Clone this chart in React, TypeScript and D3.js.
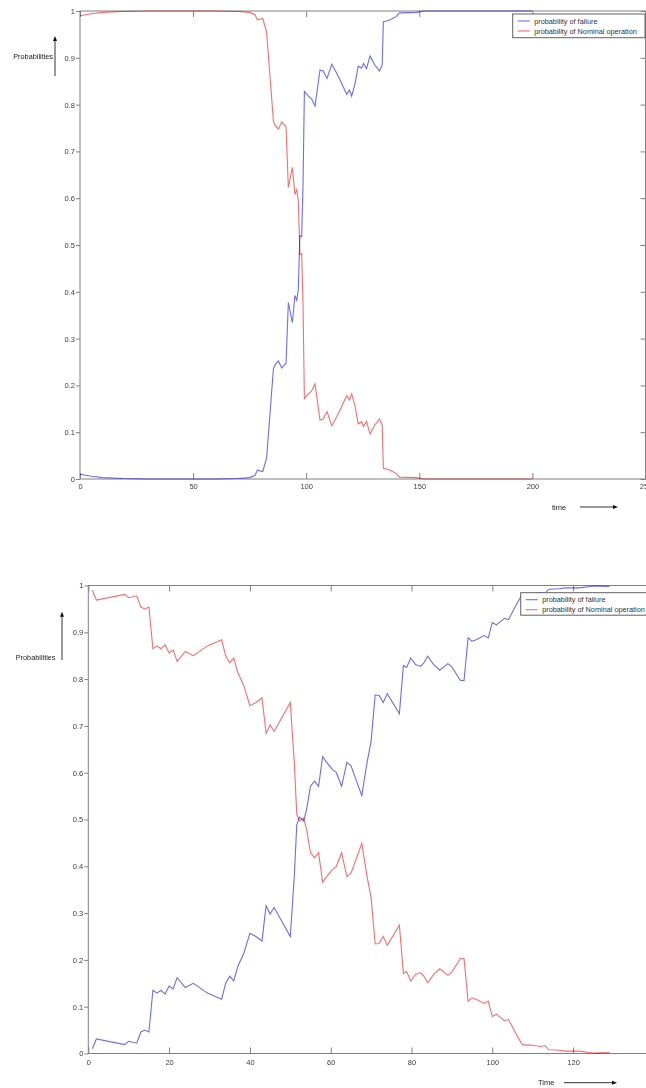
import React, { useEffect, useRef } from 'react';
import * as d3 from 'd3';

// upper chart (time 0..200)
const topTime = [0, 5, 10, 19, 30, 60, 70, 75, 77.4, 78.4, 80.8, 82.5, 84, 85.5, 86.2, 87.7, 89.2, 91.1, 92.1, 93.9, 95, 95.8, 96.5, 97.2, 98, 98.6, 99.2, 101, 102.4, 103.9, 106.1, 107.5, 109.2, 111.3, 113.5, 115.7, 117.9, 119.1, 120.1, 121.6, 123, 124.5, 125.3, 126.7, 128.2, 130.4, 132.4, 133.6, 134.1, 135.9, 137.8, 139.7, 141.2, 148.8, 152, 200];
const topFailure = [0.010, 0.006, 0.003, 0.001, 0, 0, 0.001, 0.003, 0.008, 0.019, 0.016, 0.045, 0.14, 0.235, 0.244, 0.252, 0.237, 0.248, 0.377, 0.334, 0.392, 0.382, 0.404, 0.52, 0.518, 0.63, 0.828, 0.818, 0.812, 0.797, 0.874, 0.872, 0.856, 0.886, 0.867, 0.845, 0.822, 0.831, 0.818, 0.845, 0.882, 0.878, 0.888, 0.877, 0.904, 0.884, 0.872, 0.885, 0.977, 0.979, 0.983, 0.988, 0.996, 0.997, 1, 1];
const topNominal = [0.990, 0.994, 0.997, 0.999, 1, 1, 0.999, 0.997, 0.992, 0.981, 0.984, 0.955, 0.86, 0.765, 0.756, 0.748, 0.763, 0.752, 0.623, 0.666, 0.608, 0.618, 0.596, 0.48, 0.482, 0.37, 0.172, 0.182, 0.188, 0.203, 0.126, 0.128, 0.144, 0.114, 0.133, 0.155, 0.178, 0.169, 0.182, 0.155, 0.118, 0.122, 0.112, 0.123, 0.096, 0.116, 0.128, 0.115, 0.023, 0.021, 0.017, 0.012, 0.004, 0.003, 0, 0];
const topXTicks = [0, 50, 100, 150, 200, 250];

// lower chart (time 1..129)
const botTime = [1, 2, 9, 10, 12, 13, 14, 15, 16, 17, 18, 19, 20, 21, 22, 24, 26, 29.5, 33, 34, 35, 36, 37, 38.5, 40, 41.5, 43, 44, 45, 46, 50, 51, 51.6, 52.3, 53.3, 54, 55, 56, 57, 58, 59, 60.3, 61.4, 62.7, 64, 65, 67.7, 69, 70, 71, 72, 73, 74, 77, 78, 78.8, 79.8, 81, 82.2, 83, 84, 85.5, 87, 89, 90, 92.1, 93, 94, 95, 96, 98, 99, 100, 101, 103, 104, 105.5, 107.3, 108.2, 109.5, 112, 113, 114, 116.5, 118, 121.5, 125, 129];
const botFailure = [0.010, 0.031, 0.019, 0.026, 0.022, 0.046, 0.050, 0.046, 0.135, 0.129, 0.135, 0.127, 0.144, 0.138, 0.162, 0.141, 0.150, 0.129, 0.116, 0.150, 0.165, 0.155, 0.186, 0.214, 0.257, 0.250, 0.240, 0.316, 0.298, 0.312, 0.250, 0.380, 0.489, 0.505, 0.497, 0.52, 0.571, 0.582, 0.571, 0.634, 0.622, 0.608, 0.600, 0.571, 0.622, 0.615, 0.551, 0.622, 0.667, 0.766, 0.765, 0.750, 0.769, 0.726, 0.829, 0.825, 0.845, 0.831, 0.827, 0.834, 0.849, 0.831, 0.819, 0.833, 0.826, 0.797, 0.797, 0.888, 0.881, 0.884, 0.893, 0.888, 0.921, 0.916, 0.930, 0.927, 0.952, 0.980, 0.982, 0.982, 0.985, 0.983, 0.992, 0.993, 0.995, 0.995, 0.999, 0.998];
const botNominal = [0.990, 0.969, 0.981, 0.974, 0.978, 0.954, 0.950, 0.954, 0.865, 0.871, 0.865, 0.873, 0.856, 0.862, 0.838, 0.859, 0.850, 0.871, 0.884, 0.850, 0.835, 0.845, 0.814, 0.786, 0.743, 0.750, 0.760, 0.684, 0.702, 0.688, 0.750, 0.620, 0.511, 0.497, 0.503, 0.48, 0.429, 0.418, 0.429, 0.366, 0.378, 0.392, 0.400, 0.429, 0.378, 0.385, 0.449, 0.378, 0.333, 0.234, 0.235, 0.250, 0.231, 0.274, 0.171, 0.175, 0.155, 0.169, 0.173, 0.166, 0.151, 0.169, 0.181, 0.167, 0.174, 0.203, 0.203, 0.112, 0.119, 0.116, 0.107, 0.112, 0.079, 0.084, 0.070, 0.073, 0.048, 0.020, 0.018, 0.018, 0.015, 0.017, 0.008, 0.007, 0.005, 0.005, 0.001, 0.002];
const botXTicks = [0, 20, 40, 60, 80, 100, 120];

const yTicks = [0, 0.1, 0.2, 0.3, 0.4, 0.5, 0.6, 0.7, 0.8, 0.9, 1];
const legendLabels = ['probability of failure', 'probability of Nominal operation'];

const FONT = "'Liberation Sans', Arial, Helvetica, sans-serif";
const AXIS = '#808080';
const BLUE = '#6b6bff';
const RED = '#ff6b6b';

const charts = [
  {
    time: topTime, failure: topFailure, nominal: topNominal, xTicks: topXTicks,
    xDomain: [0, 250], xRange: [80, 645.5], yRange: [479, 11],
    xPad: 5, yPad: 1, hasRight: true,
    legend: { x: 512.7, y: 14, w: 132.3, h: 23.7 },
    yLabel: { x: 53, y: 56, ax: 55, ay0: 76, ay1: 36 },
    xLabel: { text: 'time', x: 552, y: 507, ax0: 580, ax1: 618 },
  },
  {
    time: botTime, failure: botFailure, nominal: botNominal, xTicks: botXTicks,
    xDomain: [0, 140], xRange: [88.3, 653.9], yRange: [1053.5, 585.5],
    xPad: 6, yPad: 1, hasRight: true,
    legend: { x: 520.7, y: 592.7, w: 132.3, h: 22.5 },
    yLabel: { x: 55.5, y: 657, ax: 62, ay0: 660, ay1: 611.7 },
    xLabel: { text: 'Time', x: 538, y: 1082.7, ax0: 564, ax1: 617 },
  },
];

const App = () => {
  const svgRef = useRef(null);

  useEffect(() => {
    const svg = d3.select(svgRef.current);
    svg.selectAll('*').remove();
    svg.append('rect').attr('width', 646).attr('height', 1088).attr('fill', '#fff');

    charts.forEach(c => {
      const x = d3.scaleLinear().domain(c.xDomain).range(c.xRange);
      const y = d3.scaleLinear().domain([0, 1]).range(c.yRange);
      const [x0, x1] = c.xRange;
      const [yb, yt] = c.yRange;
      const g = svg.append('g');

      // 坐标轴
      const bottom = g.append('g').attr('transform', `translate(0,${yb})`)
        .call(d3.axisBottom(x).tickValues(c.xTicks).tickSizeInner(-6).tickSizeOuter(0).tickPadding(c.xPad).tickFormat(d3.format('d')));
      g.append('g').attr('transform', `translate(0,${yt})`)
        .call(d3.axisTop(x).tickValues(c.xTicks).tickSizeInner(-6).tickSizeOuter(0).tickFormat(() => ''));
      const left = g.append('g').attr('transform', `translate(${x0},0)`)
        .call(d3.axisLeft(y).tickValues(yTicks).tickSizeInner(4).tickSizeOuter(0).tickPadding(c.yPad).tickFormat(d => `${+d.toFixed(1)}`));
      if (c.hasRight) {
        g.append('g').attr('transform', `translate(${x1},0)`)
          .call(d3.axisRight(y).tickValues(yTicks).tickSizeInner(-5).tickSizeOuter(0).tickFormat(() => ''));
      }
      g.selectAll('.domain').remove();
      g.selectAll('.tick line').attr('stroke', AXIS);
      [bottom, left].forEach(a => a.selectAll('text')
        .attr('fill', '#404040').style('font-size', '7.5px').style('font-family', FONT));

      g.append('rect')
        .attr('x', x0).attr('y', yt).attr('width', x1 - x0).attr('height', yb - yt)
        .attr('fill', 'none').attr('stroke', AXIS).attr('stroke-width', 1);

      // 曲线
      const line = d3.line().x(d => x(d[0])).y(d => y(d[1]));
      [[c.failure, BLUE], [c.nominal, RED]].forEach(([vals, col]) => {
        g.append('path')
          .datum(c.time.map((t, i) => [t, vals[i]]))
          .attr('d', line)
          .attr('fill', 'none')
          .attr('stroke', col)
          .attr('stroke-width', 1.1)
          .style('mix-blend-mode', 'multiply');
      });

      // 图例
      const L = c.legend;
      const lg = g.append('g').attr('transform', `translate(${L.x},${L.y})`);
      lg.append('rect').attr('width', L.w).attr('height', L.h)
        .attr('fill', '#fff').attr('stroke', '#606060').attr('stroke-width', 1);
      [BLUE, RED].forEach((col, i) => {
        const ry = 7 + i * 10;
        lg.append('line').attr('x1', 5).attr('x2', 17).attr('y1', ry).attr('y2', ry)
          .attr('stroke', col).attr('stroke-width', 1.1);
        lg.append('text').attr('x', 21.5).attr('y', ry).attr('dy', '0.35em')
          .style('font-size', '7.3px').style('font-family', FONT).attr('fill', '#333')
          .text(legendLabels[i]);
      });

      // 轴标签与箭头
      const yl = c.yLabel;
      g.append('text').attr('x', yl.x).attr('y', yl.y).attr('dy', '0.35em')
        .attr('text-anchor', 'end').style('font-size', '7.3px').style('font-family', FONT)
        .attr('fill', '#222').text('Probabilities');
      g.append('line').attr('x1', yl.ax).attr('x2', yl.ax).attr('y1', yl.ay0).attr('y2', yl.ay1 + 4)
        .attr('stroke', '#333').attr('stroke-width', 1);
      g.append('path')
        .attr('d', `M${yl.ax},${yl.ay1} L${yl.ax - 2},${yl.ay1 + 5} L${yl.ax + 2},${yl.ay1 + 5} Z`)
        .attr('fill', '#111');

      const xl = c.xLabel;
      g.append('text').attr('x', xl.x).attr('y', xl.y).attr('dy', '0.35em')
        .style('font-size', '7.5px').style('font-family', FONT).attr('fill', '#222').text(xl.text);
      g.append('line').attr('x1', xl.ax0).attr('x2', xl.ax1 - 4).attr('y1', xl.y).attr('y2', xl.y)
        .attr('stroke', '#333').attr('stroke-width', 1);
      g.append('path')
        .attr('d', `M${xl.ax1},${xl.y} L${xl.ax1 - 5},${xl.y - 2} L${xl.ax1 - 5},${xl.y + 2} Z`)
        .attr('fill', '#111');
    });
  }, []);

  return (
    <svg
      ref={svgRef}
      width={646}
      height={1088}
      style={{ position: 'absolute', left: 0, top: 0, display: 'block' }}
    />
  );
};

export default App;
